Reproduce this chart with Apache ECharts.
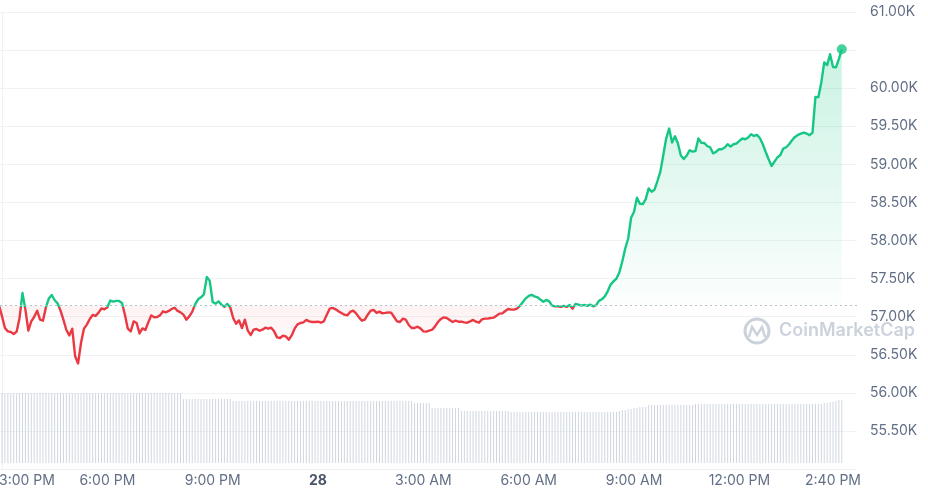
<!DOCTYPE html>
<html>
<head>
<meta charset="utf-8">
<script src="https://cdn.jsdelivr.net/npm/echarts@6/dist/echarts.min.js"></script>
<style>
  html, body { margin: 0; padding: 0; background: #fff; }
  #chart-root { width: 928px; height: 495px; }
</style>
</head>
<body>
<div id="chart-root"></div>
<script>
// minutes are counted from 3:00 PM on the 27th, one sample every 5 minutes
const startMinute = -5;
const stepMinutes = 5;

const prices = [
  57145, 57004, 56851, 56807, 56799, 56772, 56803, 56983, 57310, 57092,
  56816, 56938, 56996, 57079, 56960, 56947, 57122, 57237, 57285, 57215,
  57175, 57079, 56957, 56825, 56754, 56842, 56480, 56385, 56654, 56842,
  56895, 56970, 57022, 57009, 57053, 57109, 57096, 57122, 57211, 57197,
  57207, 57207, 57180, 57026, 56842, 56807, 56938, 56917, 56780, 56846,
  56825, 56925, 57017, 56991, 56996, 57017, 57070, 57057, 57075, 57101,
  57118, 57075, 57057, 57026, 56960, 57004, 57062, 57162, 57228, 57254,
  57293, 57520, 57470, 57193, 57171, 57201, 57158, 57128, 57167, 57122,
  56983, 56908, 56951, 56851, 56960, 56816, 56759, 56829, 56838, 56816,
  56829, 56855, 56842, 56855, 56807, 56728, 56720, 56750, 56741, 56697,
  56754, 56842, 56899, 56917, 56925, 56957, 56938, 56930, 56930, 56934,
  56921, 56938, 57026, 57105, 57115, 57096, 57070, 57049, 57026, 57017,
  57062, 57079, 57043, 56991, 56947, 56960, 57026, 57079, 57088, 57049,
  57066, 57043, 57049, 57057, 57053, 56996, 56938, 56930, 56974, 56960,
  56891, 56851, 56851, 56868, 56846, 56807, 56803, 56816, 56829, 56872,
  56930, 56970, 56991, 56983, 56957, 56930, 56947, 56934, 56934, 56925,
  56921, 56938, 56957, 56934, 56921, 56964, 56974, 56974, 56983, 56987,
  57013, 57040, 57043, 57075, 57101, 57092, 57092, 57105, 57141, 57193,
  57241, 57272, 57286, 57267, 57254, 57224, 57197, 57220, 57201, 57145,
  57136, 57136, 57128, 57141, 57128, 57154, 57105, 57167, 57158, 57145,
  57154, 57141, 57158, 57136, 57149, 57207, 57228, 57267, 57333, 57421,
  57465, 57500, 57583, 57728, 57895, 58026, 58299, 58378, 58562, 58483,
  58478, 58544, 58684, 58641, 58667, 58781, 58904, 59123, 59342, 59470,
  59286, 59369, 59273, 59115, 59070, 59115, 59185, 59167, 59175, 59339,
  59283, 59280, 59241, 59224, 59145, 59162, 59198, 59198, 59220, 59264,
  59233, 59264, 59273, 59307, 59339, 59329, 59352, 59395, 59373, 59386,
  59346, 59264, 59162, 59066, 58978, 59036, 59092, 59123, 59207, 59224,
  59264, 59316, 59360, 59386, 59404, 59417, 59404, 59382, 59417, 59886,
  59882, 60075, 60339, 60303, 60445, 60277, 60273, 60382, 60510
];

// 24h volume, $B
const volumes = [
  35, 35, 35, 35, 35, 35, 35, 35, 35, 35,
  35, 35, 35, 35, 35, 35, 35, 35, 35, 35,
  35, 35, 35, 35, 35, 35, 35, 35, 35, 35,
  35, 35, 35, 35, 35, 35, 35, 35, 35, 35,
  35, 35, 35, 35, 35, 35, 35, 35, 35, 35,
  35, 35, 35, 35, 35, 35, 35, 35, 35, 35,
  35, 35, 35, 32, 32, 32, 32, 32, 32, 32,
  32, 32, 32, 32, 32, 32, 32, 32, 32, 32,
  31, 31, 31, 31, 31, 31, 31, 31, 31, 31,
  31, 31, 31, 31, 31, 31, 31, 31, 31, 31,
  31, 31, 31, 31, 31, 31, 31, 31, 31, 31,
  31, 31, 31, 31, 31, 31, 31, 31, 31, 31,
  31, 31, 31, 31, 31, 31, 31, 31, 31, 31,
  31, 31, 31, 31, 31, 31, 31, 31, 31, 31,
  31, 31, 30, 30, 30, 30, 30, 30, 27.5, 27.5,
  27.5, 27.5, 27.5, 27.5, 27.5, 27.5, 27.5, 27.5, 26, 26,
  26, 26, 26, 26, 26, 26, 26, 26, 26, 26,
  26, 26, 26, 26, 26, 25.5, 25.5, 25.5, 25.5, 25.5,
  25.5, 25.5, 25.5, 25.5, 25.5, 25.5, 25.5, 25.5, 25.5, 25.5,
  25.5, 25.5, 25.5, 25.5, 25.5, 25.5, 25.5, 25.5, 25.5, 25.5,
  25.5, 25.5, 25.5, 25.5, 25.5, 25.5, 25.5, 25.5, 25.5, 25.5,
  25.5, 25.5, 26, 26.5, 26.5, 27, 27, 27.5, 27.5, 28,
  28, 28, 29, 29, 29, 29, 29, 29, 29, 29,
  29, 29, 29, 29, 29, 29, 29, 29, 29.5, 29.5,
  29.5, 29.5, 29.5, 29.5, 29.5, 29.5, 29.5, 29.5, 29.5, 29.5,
  29.5, 29.5, 29.5, 29.5, 29.5, 29.5, 29.5, 29.5, 29.5, 29.5,
  29.5, 29.5, 29.5, 29.5, 29.5, 29.5, 29.5, 29.5, 29.5, 29.5,
  29.5, 29.5, 29.5, 29.5, 29.5, 29.5, 29.5, 29.5, 29.5, 29.5,
  29.5, 29.5, 30, 30, 30.5, 30.5, 31, 31.5, 31.5
];

const tickMinutes = [0, 180, 360, 540, 720, 900, 1080, 1260, 1420];
const tickLabels = ['3:00 PM', '6:00 PM', '9:00 PM', '28', '3:00 AM', '6:00 AM', '9:00 AM', '12:00 PM', '2:40 PM'];

const GREEN = '#16c784';
const RED = '#ea3943';
const GRAY = '#616e85';

const times = prices.map(function (_, i) { return startMinute + i * stepMinutes; });
const openPrice = prices[0];
const lastIdx = prices.length - 1;
const pricePts = prices.map(function (p, i) { return [times[i], p]; });
const upPts = prices.map(function (p, i) { return [times[i], Math.max(p, openPrice)]; });
const downPts = prices.map(function (p, i) { return [times[i], Math.min(p, openPrice)]; });
const volPts = volumes.map(function (v, i) { return [times[i], v]; });

// split the line colour at the opening price, relative to the line's own box
const hi = Math.max.apply(null, prices);
const lo = Math.min.apply(null, prices);
const cut = (hi - openPrice) / (hi - lo);
const lineColor = {
  type: 'linear', x: 0, y: 0, x2: 0, y2: 1,
  colorStops: [
    { offset: 0, color: GREEN }, { offset: cut, color: GREEN },
    { offset: cut, color: RED }, { offset: 1, color: RED }
  ]
};

function kFmt(v) { return (v / 1000).toFixed(2) + 'K'; }

const root = document.getElementById('chart-root');
const chart = echarts.init(root, null, { renderer: 'canvas' });

chart.setOption({
  animation: false,
  backgroundColor: '#fff',
  textStyle: { fontFamily: 'Inter' },
  grid: [
    { left: 0, right: 71, top: 12, bottom: 26, outerBoundsMode: 'none' },
    { left: 0, right: 71, top: 380, bottom: 32, outerBoundsMode: 'none' }
  ],
  xAxis: [
    {
      type: 'value', gridIndex: 0, min: -3.42, max: 1461,
      axisLine: { show: false }, axisTick: { show: false }, splitLine: { show: false },
      axisLabel: {
        customValues: tickMinutes,
        margin: 5,
        color: GRAY,
        fontSize: 14,
        fontFamily: 'Inter',
        formatter: function (v) {
          const k = tickMinutes.indexOf(v);
          if (k < 0) return '';
          if (k === 0) return '{first|' + tickLabels[k] + '}';
          if (tickLabels[k] === '28') return '{day|' + tickLabels[k] + '}';
          return tickLabels[k];
        },
        rich: {
          first: { padding: [0, 0, 0, 50], color: GRAY, fontSize: 14, fontFamily: 'Inter' },
          day: { color: '#4a5468', fontWeight: 700, fontSize: 14, fontFamily: 'Inter' }
        }
      }
    },
    { type: 'value', gridIndex: 1, min: -3.42, max: 1461, show: false }
  ],
  yAxis: [
    {
      type: 'value', gridIndex: 0, position: 'right',
      min: 55000, max: 61000, interval: 500,
      axisLine: { show: true, lineStyle: { color: '#eff2f5' } },
      axisTick: { show: false },
      splitLine: { lineStyle: { color: '#eff2f5' } },
      axisLabel: {
        showMinLabel: false,
        margin: 13,
        color: GRAY,
        fontSize: 14,
        fontFamily: 'Inter',
        formatter: function (v) { return v === 60500 ? '' : kFmt(v); }
      }
    },
    { type: 'value', gridIndex: 1, min: 0, max: 41.5, show: false }
  ],
  graphic: [
    { type: 'circle', shape: { cx: 757, cy: 331, r: 12 }, style: { fill: 'none', stroke: '#ccd2dc', lineWidth: 3 } },
    { type: 'polyline', shape: { points: [[749, 337], [752, 327], [757, 335], [762, 327], [765, 337]] },
      style: { fill: 'none', stroke: '#ccd2dc', lineWidth: 2.5 } },
    { type: 'text', x: 779, y: 331,
      style: { text: 'CoinMarketCap', fontSize: 18, fontWeight: 600, fontFamily: 'Inter', fill: '#ccd2dc', verticalAlign: 'middle' } }
  ],
  series: [
    {
      name: 'Price', type: 'line', xAxisIndex: 0, yAxisIndex: 0,
      data: pricePts, showSymbol: false, z: 4,
      lineStyle: { width: 2.4, color: lineColor, join: 'round' },
      itemStyle: { color: GREEN },
      markLine: {
        silent: true, symbol: ['none', 'none'],
        data: [
          { yAxis: openPrice, lineStyle: { color: '#b8c0cd', type: [2, 3], width: 1 }, label: { show: false } },
          {
            yAxis: prices[lastIdx],
            lineStyle: { opacity: 0 },
            label: {
              show: true, position: 'end', distance: 2,
              formatter: kFmt(prices[lastIdx]),
              backgroundColor: GREEN, color: '#fff', borderRadius: 2,
              fontSize: 14, fontWeight: 600, fontFamily: 'Inter',
              lineHeight: 17, padding: [4, 11, 3, 11]
            }
          }
        ]
      }
    },
    {
      name: 'Up area', type: 'line', xAxisIndex: 0, yAxisIndex: 0,
      data: upPts, showSymbol: false, silent: true, z: 1,
      lineStyle: { opacity: 0 },
      areaStyle: {
        origin: openPrice,
        color: {
          type: 'linear', x: 0, y: 0, x2: 0, y2: 1,
          colorStops: [{ offset: 0, color: 'rgba(22,199,132,0.32)' }, { offset: 1, color: 'rgba(22,199,132,0.02)' }]
        }
      }
    },
    {
      name: 'Down area', type: 'line', xAxisIndex: 0, yAxisIndex: 0,
      data: downPts, showSymbol: false, silent: true, z: 1,
      lineStyle: { opacity: 0 },
      areaStyle: {
        origin: openPrice,
        color: {
          type: 'linear', x: 0, y: 0, x2: 0, y2: 1,
          colorStops: [{ offset: 0, color: 'rgba(234,57,67,0.09)' }, { offset: 1, color: 'rgba(234,57,67,0.02)' }]
        }
      }
    },
    {
      name: 'Last', type: 'scatter', xAxisIndex: 0, yAxisIndex: 0, z: 5,
      data: [[times[lastIdx], prices[lastIdx]]],
      symbolSize: 10, itemStyle: { color: GREEN }
    },
    {
      name: 'Volume', type: 'bar', xAxisIndex: 1, yAxisIndex: 1,
      data: volPts, barWidth: 1, silent: true,
      itemStyle: { color: '#d0d6e0' }
    }
  ]
});
</script>
</body>
</html>
